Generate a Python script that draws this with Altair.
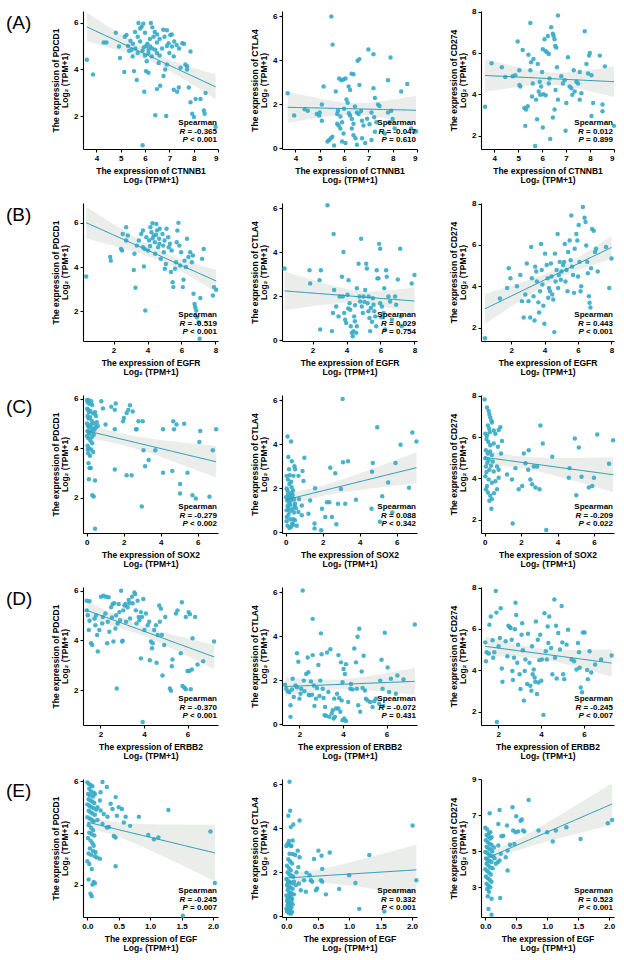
import numpy as np
import pandas as pd
import altair as alt

FONT = "Liberation Sans"
POINT = "#36abc6"
LINE = "#2b9cb8"
BAND = "#e8ebe8"

# Expression pairs, Log2(TPM+1): (row gene, checkpoint gene)
CTNNB1_PDCD1 = [
    (3.61, 4.42), (3.86, 3.79), (4.3, 5.15), (4.41, 5.15), (4.8, 5.57), (4.93, 4.98), (4.97, 4.49),
    (5.15, 3.89), (5.17, 5.4), (5.24, 5.47), (5.4, 5.23), (5.45, 4.84), (5.49, 4.56), (5.55, 3.93),
    (5.66, 3.55), (5.59, 5.6), (5.73, 5.99), (5.8, 5.75), (5.86, 5.83), (5.93, 5.96), (6.0, 5.57),
    (5.9, 0.76), (5.97, 3.05), (6.04, 3.93), (6.14, 3.86), (6.24, 5.99), (6.35, 5.4), (6.42, 4.84),
    (6.49, 4.7), (6.56, 4.28), (6.49, 5.15), (6.28, 4.56), (6.21, 4.98), (6.14, 4.7), (6.07, 4.35),
    (6.42, 2.04), (6.87, 2.01), (6.76, 3.72), (6.62, 3.3), (6.49, 3.16), (6.9, 5.68), (7.04, 5.47),
    (6.97, 5.12), (7.11, 4.98), (7.18, 4.56), (6.9, 4.21), (6.83, 4.0), (7.18, 3.13), (7.32, 3.05),
    (7.39, 3.23), (7.46, 4.07), (7.53, 5.12), (7.66, 4.21), (7.73, 4.14), (7.73, 4.0), (7.87, 4.77),
    (7.8, 3.23), (7.87, 2.6), (7.94, 2.11), (8.01, 1.97), (8.08, 2.74), (8.28, 2.74), (8.42, 2.25),
    (8.45, 2.11), (8.49, 2.99), (8.9, 1.55), (5.3, 5.0), (5.5, 5.1), (5.6, 4.9), (5.7, 4.7), (5.8, 5.2),
    (5.9, 4.8), (6.0, 4.6), (6.1, 5.1), (6.2, 5.3), (6.3, 4.9), (6.4, 5.6), (6.5, 5.5), (6.6, 5.3),
    (6.7, 4.9), (6.8, 5.4), (6.9, 5.0), (7.0, 4.7), (7.1, 5.5), (7.2, 5.2), (7.3, 5.05), (6.6, 4.6),
    (6.3, 5.8), (5.7, 5.4), (6.05, 5.0), (5.95, 4.95), (6.15, 4.85), (7.4, 4.9), (7.6, 5.1),
    (6.75, 5.7), (5.35, 4.8),
]
CTNNB1_CTLA4 = [
    (3.68, 2.51), (3.95, 1.49), (4.38, 1.78), (4.51, 1.71), (4.88, 1.56), (4.98, 1.49), (5.09, 1.26),
    (5.16, 2.81), (5.09, 2.0), (5.0, 1.63), (5.32, 0.31), (5.39, 0.38), (5.46, 0.46), (5.52, 0.53),
    (5.59, 0.13), (5.48, 6.0), (5.53, 4.72), (5.66, 2.59), (5.72, 1.56), (5.75, 1.71), (5.8, 3.18),
    (5.89, 3.1), (5.97, 3.13), (6.06, 3.18), (5.72, 1.12), (5.78, 1.04), (5.85, 0.9), (5.92, 1.19),
    (5.98, 0.68), (5.92, 0.31), (6.06, 0.24), (6.1, 2.22), (6.15, 2.07), (6.19, 2.81), (6.25, 2.66),
    (6.31, 3.4), (6.39, 3.37), (6.25, 1.49), (6.32, 1.34), (6.39, 1.12), (6.32, 0.9), (6.39, 0.6),
    (6.47, 0.46), (6.53, 0.16), (6.56, 3.99), (6.63, 4.06), (6.63, 2.88), (6.53, 1.63), (6.6, 1.56),
    (6.74, 1.26), (6.8, 1.04), (6.74, 0.46), (6.87, 0.24), (7.0, 4.5), (7.21, 4.28), (7.21, 2.74),
    (7.27, 2.29), (7.13, 1.63), (7.24, 1.41), (7.33, 1.19), (7.4, 2.0), (7.46, 1.93), (7.27, 0.75),
    (7.13, 0.38), (7.81, 3.1), (7.91, 4.13), (7.81, 1.63), (7.94, 1.71), (7.87, 1.19), (8.0, 1.34),
    (8.08, 0.9), (7.68, 0.68), (8.35, 2.59), (8.6, 2.93), (8.76, 0.9), (8.89, 0.75), (8.96, 0.78),
    (6.0, 1.8), (6.2, 1.6), (6.45, 1.9), (6.7, 1.7), (5.85, 1.45), (6.95, 1.35), (7.05, 1.1),
]
CTNNB1_CD274 = [
    (3.62, 3.39), (3.89, 5.5), (4.32, 5.31), (4.46, 4.84), (4.77, 4.87), (4.88, 4.92), (4.98, 6.55),
    (5.05, 5.16), (5.05, 4.45), (5.09, 4.37), (5.19, 6.14), (5.26, 3.34), (5.3, 2.47), (5.33, 3.26),
    (5.4, 3.42), (5.43, 5.91), (5.51, 7.45), (5.51, 5.16), (5.54, 5.55), (5.58, 3.89), (5.61, 4.52),
    (5.64, 5.71), (5.71, 1.49), (5.75, 3.74), (5.79, 2.79), (5.82, 5.47), (5.86, 4.13), (5.92, 3.97),
    (5.96, 4.37), (6.0, 5.08), (6.03, 2.39), (6.03, 6.18), (6.1, 6.66), (6.14, 6.1), (6.2, 6.03),
    (6.24, 6.82), (6.28, 5.95), (6.31, 4.76), (6.28, 4.52), (6.34, 1.84), (6.38, 7.24), (6.45, 6.93),
    (6.48, 6.82), (6.52, 6.66), (6.55, 6.34), (6.59, 6.26), (6.62, 5.31), (6.66, 7.81), (6.56, 4.21),
    (6.52, 3.26), (6.66, 3.74), (6.45, 2.87), (6.8, 4.87), (6.87, 4.52), (6.94, 4.68), (6.98, 2.23),
    (7.01, 3.58), (7.08, 5.79), (7.15, 4.37), (7.22, 4.29), (7.26, 3.97), (7.32, 5.16), (7.36, 4.13),
    (7.43, 4.6), (7.5, 4.52), (7.57, 3.74), (7.64, 4.05), (7.57, 5.08), (7.78, 7.05), (7.85, 5.47),
    (7.92, 5.0), (7.99, 6.0), (7.96, 5.87), (8.06, 2.95), (8.13, 3.58), (8.06, 4.92), (8.41, 5.87),
    (8.52, 3.5), (8.52, 3.18), (8.62, 5.35), (9.0, 2.47), (6.05, 4.0), (6.15, 3.95), (5.9, 4.6),
]
EGFR_PDCD1 = [
    (0.39, 3.57), (1.8, 4.45), (1.84, 4.29), (2.44, 4.82), (2.5, 4.75), (2.54, 5.5), (2.74, 5.8),
    (2.84, 5.43), (2.74, 5.2), (3.19, 3.87), (3.29, 3.06), (3.23, 4.6), (3.37, 4.97), (3.49, 5.2),
    (3.63, 5.5), (3.73, 5.65), (3.73, 4.9), (3.83, 4.82), (3.79, 4.02), (3.87, 2.03), (3.93, 5.35),
    (4.03, 4.75), (4.09, 5.2), (4.17, 5.8), (4.23, 5.58), (4.29, 5.98), (4.37, 5.43), (4.43, 5.12),
    (4.52, 5.95), (4.56, 5.65), (4.62, 4.9), (4.68, 5.28), (4.72, 5.73), (4.78, 4.37), (4.88, 5.5),
    (4.92, 4.97), (4.96, 4.67), (5.02, 3.92), (5.08, 4.14), (5.12, 5.73), (5.22, 5.35), (5.32, 5.05),
    (5.42, 4.75), (5.38, 3.77), (5.48, 3.31), (5.52, 3.09), (5.62, 3.92), (5.68, 4.22), (5.72, 5.12),
    (5.76, 5.65), (5.82, 6.0), (5.88, 4.97), (5.92, 4.07), (5.98, 4.67), (6.08, 3.09), (6.12, 3.42),
    (6.18, 4.29), (6.26, 4.0), (6.32, 5.28), (6.41, 4.45), (6.51, 4.67), (6.61, 4.22), (6.67, 4.52),
    (6.71, 2.79), (6.77, 2.33), (6.81, 2.18), (6.87, 2.03), (6.91, 1.73), (7.01, 1.5), (7.07, 0.75),
    (7.11, 2.6), (7.21, 4.37), (7.31, 4.82), (7.85, 2.71), (7.91, 3.09), (8.04, 2.97),
    (4.3, 5.3), (4.5, 5.45), (4.7, 5.05), (4.15, 4.95), (5.0, 5.2), (5.25, 4.9), (4.45, 4.6),
]
EGFR_CTLA4 = [
    (0.35, 3.27), (1.82, 3.19), (1.86, 2.59), (2.41, 2.74), (2.49, 3.19), (2.45, 0.49), (2.88, 6.15),
    (3.24, 4.84), (3.2, 1.24), (3.14, 0.42), (3.27, 2.29), (3.39, 1.54), (3.53, 1.09), (3.59, 2.0),
    (3.73, 2.89), (3.78, 2.0), (3.82, 4.02), (3.86, 1.24), (3.92, 0.94), (3.98, 0.79), (4.06, 2.07),
    (4.12, 2.74), (4.18, 1.69), (4.22, 1.39), (4.25, 0.64), (4.31, 0.34), (4.37, 0.19), (4.41, 0.42),
    (4.45, 1.09), (4.49, 0.87), (4.57, 0.34), (4.61, 0.64), (4.61, 2.37), (4.71, 3.49), (4.76, 2.0),
    (4.8, 1.77), (4.86, 4.62), (4.9, 1.54), (4.96, 1.24), (5.0, 2.0), (5.16, 3.49), (5.2, 3.27),
    (5.1, 2.29), (5.24, 1.69), (5.29, 1.32), (5.35, 1.02), (5.39, 0.42), (5.43, 1.47), (5.55, 1.92),
    (5.59, 1.62), (5.63, 1.32), (5.69, 1.09), (5.75, 0.64), (5.78, 3.19), (5.82, 2.82), (5.92, 4.39),
    (5.98, 4.17), (5.88, 2.82), (5.98, 1.69), (6.08, 1.54), (6.18, 1.24), (6.27, 0.49), (6.22, 2.37),
    (6.33, 3.19), (6.37, 2.89), (6.47, 2.0), (6.57, 1.77), (6.67, 0.94), (6.86, 2.0), (6.92, 1.62),
    (7.02, 2.77), (7.16, 4.17), (7.2, 1.09), (7.25, 0.64), (7.84, 2.59), (8.0, 2.97),
    (4.5, 1.6), (5.05, 1.75), (5.5, 0.85), (4.1, 1.45), (5.3, 2.0), (6.05, 1.05),
]
EGFR_CD274 = [
    (0.44, 1.48), (1.33, 3.41), (1.76, 3.92), (1.86, 4.87), (1.96, 4.39), (2.35, 4.0), (2.55, 4.55),
    (2.65, 3.28), (2.75, 2.49), (2.85, 3.6), (2.94, 5.1), (3.04, 3.28), (3.14, 2.49), (3.2, 5.9),
    (3.24, 4.39), (3.34, 3.52), (3.4, 2.34), (3.44, 4.95), (3.5, 4.71), (3.54, 4.23), (3.63, 3.22),
    (3.67, 2.73), (3.73, 3.76), (3.79, 6.05), (3.83, 4.79), (3.87, 4.08), (3.93, 3.06), (3.99, 2.18),
    (4.03, 5.58), (4.13, 5.03), (4.19, 4.39), (4.22, 3.44), (4.26, 3.92), (4.32, 3.76), (4.38, 5.1),
    (4.42, 4.47), (4.46, 3.6), (4.52, 3.36), (4.58, 1.78), (4.62, 5.58), (4.66, 4.23), (4.72, 4.79),
    (4.78, 6.53), (4.81, 3.92), (4.85, 4.55), (4.91, 5.18), (4.97, 4.31), (5.01, 4.71), (5.11, 5.03),
    (5.17, 5.18), (5.21, 6.05), (5.25, 4.23), (5.31, 4.79), (5.37, 3.76), (5.41, 5.66), (5.5, 6.21),
    (5.56, 5.26), (5.6, 7.43), (5.64, 4.95), (5.7, 4.55), (5.76, 3.68), (5.8, 5.82), (5.9, 6.53),
    (5.96, 6.21), (6.0, 4.47), (6.04, 6.96), (6.09, 5.18), (6.15, 3.76), (6.19, 4.0), (6.29, 7.84),
    (6.39, 7.32), (6.45, 7.11), (6.49, 5.97), (6.55, 5.18), (6.59, 4.63), (6.65, 3.52), (6.69, 3.2),
    (6.74, 2.97), (6.78, 4.87), (6.84, 6.77), (6.94, 6.69), (7.02, 5.66), (7.08, 5.82), (7.67, 5.9),
    (7.87, 3.92), (8.0, 5.34), (7.18, 4.71),
]
SOX2_PDCD1 = [
    (0.02, 5.95), (0.05, 5.85), (0.1, 5.95), (0.15, 5.8), (0.25, 5.9), (0.3, 5.75), (0.03, 5.6),
    (0.08, 5.55), (0.12, 5.45), (0.2, 5.5), (0.35, 5.4), (0.45, 5.45), (0.05, 5.3), (0.1, 5.2),
    (0.18, 5.25), (0.28, 5.1), (0.4, 5.0), (0.55, 5.05), (0.02, 5.0), (0.07, 4.9), (0.14, 4.85),
    (0.22, 4.95), (0.32, 4.8), (0.5, 4.85), (0.6, 4.9), (0.04, 4.7), (0.1, 4.65), (0.16, 4.6),
    (0.26, 4.7), (0.38, 4.55), (0.02, 4.5), (0.09, 4.4), (0.2, 4.3), (0.3, 4.2), (0.05, 4.1),
    (0.12, 4.0), (0.24, 3.95), (0.35, 3.85), (0.08, 3.8), (0.18, 3.7), (0.1, 3.4), (0.15, 3.2),
    (0.22, 3.2), (0.12, 2.75), (0.45, 2.7), (0.3, 2.1), (0.38, 2.05), (0.45, 0.75), (0.06, 3.95),
    (0.28, 4.45), (0.42, 4.75), (0.5, 5.3), (0.79, 5.9), (0.88, 5.61), (1.02, 4.96), (1.33, 5.68),
    (1.52, 5.55), (1.57, 5.81), (1.52, 4.77), (1.52, 3.14), (1.97, 5.09), (2.01, 5.22), (2.16, 5.42),
    (2.25, 5.55), (2.34, 5.74), (2.49, 5.48), (2.16, 2.91), (2.43, 2.91), (2.67, 4.77), (2.7, 4.77),
    (2.8, 5.09), (3.03, 5.09), (2.98, 1.65), (3.07, 3.92), (3.16, 3.27), (3.35, 3.53), (3.71, 3.92),
    (4.13, 4.77), (4.13, 3.01), (4.68, 5.09), (4.72, 4.77), (4.86, 4.96), (4.63, 3.08), (5.05, 2.56),
    (5.05, 2.17), (5.27, 4.99), (5.45, 3.01), (5.72, 2.1), (5.9, 1.97), (6.09, 4.25), (6.14, 4.7),
    (6.64, 2.04), (6.82, 3.92), (7.0, 4.77),
]
SOX2_CTLA4 = [
    (0.1, 4.36), (0.29, 4.13), (0.14, 3.43), (0.33, 3.24), (0.47, 3.01), (0.51, 2.87), (0.18, 2.87),
    (0.05, 2.57), (0.42, 2.57), (0.69, 2.57), (0.91, 2.79), (0.96, 2.34), (1.01, 3.39), (0.72, 1.52),
    (0.87, 1.22), (0.69, 0.93), (0.87, 0.78), (1.23, 0.85), (1.32, 1.45), (1.59, 2.01), (1.56, 0.4),
    (1.56, 0.18), (1.92, 0.1), (1.96, 1.07), (2.14, 0.7), (2.23, 1.37), (2.36, 1.37), (2.41, 2.94),
    (2.5, 0.7), (2.68, 2.69), (2.74, 0.37), (2.83, 1.3), (2.99, 1.97), (3.08, 6.07), (3.1, 3.19),
    (3.22, 1.3), (3.37, 3.24), (3.8, 1.48), (4.64, 1.07), (4.67, 2.76), (4.71, 3.16), (4.95, 4.78),
    (5.09, 0.48), (5.22, 1.64), (5.54, 2.27), (5.76, 0.9), (5.94, 3.16), (6.21, 3.99), (6.67, 2.03),
    (6.85, 4.54), (7.07, 4.13), (0.05, 1.0), (0.1, 1.2), (0.15, 1.5), (0.2, 1.6), (0.25, 1.7),
    (0.3, 1.8), (0.35, 1.6), (0.1, 1.9), (0.2, 2.2), (0.05, 2.0), (0.3, 2.3), (0.4, 1.9), (0.45, 1.5),
    (0.5, 1.3), (0.15, 0.8), (0.25, 0.6), (0.35, 0.4), (0.1, 0.3), (0.2, 0.2), (0.3, 0.25),
    (0.4, 0.35), (0.05, 0.5), (0.15, 1.1), (0.25, 1.25), (0.35, 1.05), (0.45, 0.9), (0.55, 1.1),
    (0.02, 1.6), (0.08, 1.45), (0.12, 1.75), (0.18, 1.35), (0.22, 0.95), (0.28, 1.45), (0.38, 1.7),
    (0.48, 1.2), (0.06, 0.7), (0.42, 0.6), (0.6, 0.3), (0.22, 2.6), (0.12, 2.4), (0.32, 2.05),
    (0.5, 0.55),
]
SOX2_CD274 = [
    (0.0, 7.81), (0.13, 7.42), (0.22, 7.26), (0.26, 7.1), (0.31, 6.94), (0.37, 6.78), (0.4, 6.7),
    (0.18, 6.55), (0.28, 6.23), (0.04, 6.15), (0.13, 6.07), (0.5, 6.31), (0.59, 6.15), (0.77, 6.34),
    (0.86, 6.47), (0.95, 5.8), (0.73, 5.52), (0.5, 5.68), (0.31, 5.6), (0.07, 5.36), (0.18, 5.2),
    (0.4, 5.12), (0.04, 4.97), (0.22, 4.89), (0.44, 4.81), (0.07, 4.57), (0.26, 4.41), (0.5, 4.33),
    (0.68, 4.57), (0.77, 4.41), (0.9, 5.2), (0.04, 4.1), (0.22, 3.94), (0.4, 3.78), (0.59, 3.86),
    (0.77, 4.02), (0.07, 3.47), (0.18, 3.31), (0.31, 3.15), (0.4, 2.99), (0.37, 2.52), (0.13, 3.63),
    (0.26, 2.91), (0.51, 3.28), (0.68, 3.47), (0.1, 5.9), (0.2, 5.75), (0.3, 5.3), (0.15, 4.75),
    (0.35, 4.6), (0.1, 4.3), (0.25, 6.4), (1.23, 4.18), (1.5, 3.94), (1.54, 1.81), (1.69, 4.49),
    (1.87, 3.47), (2.06, 3.63), (2.15, 5.2), (2.24, 4.73), (2.39, 4.41), (2.42, 5.36), (2.51, 3.94),
    (2.61, 3.71), (2.7, 4.57), (2.79, 3.55), (2.88, 4.57), (3.01, 3.47), (3.06, 6.55), (3.19, 5.68),
    (3.38, 1.49), (3.71, 5.04), (4.62, 4.02), (4.66, 4.49), (4.95, 5.92), (5.03, 3.18), (5.17, 5.49),
    (5.32, 4.07), (5.72, 3.55), (5.91, 3.63), (6.0, 4.02), (6.18, 6.12), (6.83, 4.7), (7.05, 5.84),
]
ERBB2_PDCD1 = [
    (1.37, 5.6), (1.5, 5.58), (1.37, 5.21), (1.42, 5.01), (1.5, 4.79), (1.47, 4.42), (1.57, 3.89),
    (1.62, 3.82), (1.73, 4.88), (1.77, 4.61), (1.8, 5.01), (1.85, 4.22), (1.88, 3.56), (1.95, 4.42),
    (2.03, 5.76), (2.08, 4.68), (2.11, 4.94), (2.14, 5.8), (2.23, 5.08), (2.26, 5.76), (2.31, 3.89),
    (2.34, 4.75), (2.38, 5.74), (2.41, 4.35), (2.49, 5.34), (2.53, 4.92), (2.56, 5.47), (2.6, 3.96),
    (2.64, 5.5), (2.69, 4.48), (2.72, 5.01), (2.75, 2.07), (2.79, 4.68), (2.84, 5.47), (2.87, 5.14),
    (2.9, 4.81), (2.95, 6.0), (3.0, 3.96), (3.02, 3.99), (3.05, 5.21), (3.1, 5.41), (3.15, 5.47),
    (3.18, 4.75), (3.25, 5.34), (3.3, 5.63), (3.33, 5.5), (3.36, 4.88), (3.45, 5.76), (3.48, 5.5),
    (3.56, 5.93), (3.6, 5.87), (3.63, 5.21), (3.66, 4.68), (3.71, 5.6), (3.76, 4.94), (3.79, 4.81),
    (3.86, 3.28), (3.86, 5.14), (3.91, 4.94), (3.94, 0.72), (3.97, 5.67), (4.02, 4.42), (4.09, 5.08),
    (4.17, 4.61), (4.24, 4.75), (4.27, 3.2), (4.32, 3.96), (4.37, 3.69), (4.4, 3.89), (4.47, 4.42),
    (4.55, 4.61), (4.58, 3.1), (4.63, 4.22), (4.7, 5.41), (4.73, 4.75), (4.78, 5.28), (4.82, 4.22),
    (4.85, 2.59), (4.93, 3.82), (4.98, 4.94), (5.19, 2.07), (5.24, 1.98), (5.28, 2.96), (5.31, 3.23),
    (5.47, 5.08), (5.54, 5.21), (5.69, 3.49), (5.74, 5.54), (5.77, 2.17), (5.85, 2.11), (5.92, 4.94),
    (5.92, 2.04), (6.0, 2.77), (6.05, 5.14), (6.08, 2.77), (6.11, 5.05), (6.15, 2.04), (6.2, 2.83),
    (6.23, 4.09), (6.35, 4.94), (6.46, 3.03), (6.72, 3.16), (7.22, 3.96),
]
ERBB2_CTLA4 = [
    (1.34, 1.8), (1.39, 1.62), (1.47, 1.5), (1.54, 1.47), (1.59, 0.87), (1.59, 0.34), (1.66, 1.59),
    (1.69, 2.07), (1.74, 1.24), (1.82, 1.77), (1.89, 1.69), (1.89, 3.24), (1.95, 2.85), (2.0, 1.17),
    (2.05, 1.39), (2.08, 1.62), (2.15, 6.09), (2.2, 1.99), (2.23, 1.51), (2.31, 2.29), (2.38, 3.04),
    (2.41, 2.37), (2.43, 1.35), (2.46, 1.32), (2.53, 1.95), (2.58, 1.35), (2.61, 4.8), (2.61, 3.15),
    (2.66, 1.77), (2.69, 0.84), (2.76, 1.17), (2.81, 1.65), (2.87, 2.7), (2.92, 1.29), (2.96, 1.99),
    (2.99, 4.14), (3.02, 3.19), (3.07, 1.62), (3.11, 1.2), (3.15, 0.42), (3.18, 0.79), (3.22, 0.39),
    (3.27, 3.27), (3.33, 1.47), (3.37, 0.34), (3.42, 3.42), (3.48, 0.49), (3.53, 0.64), (3.57, 0.27),
    (3.6, 1.17), (3.63, 0.34), (3.68, 0.72), (3.73, 1.39), (3.79, 0.72), (3.79, 3.15), (3.83, 1.2),
    (3.88, 0.57), (3.91, 2.82), (3.94, 1.09), (3.98, 1.92), (3.98, 0.19), (4.03, 2.52), (4.06, 0.27),
    (4.09, 2.29), (4.14, 2.74), (4.14, 0.15), (4.24, 1.02), (4.34, 1.62), (4.37, 1.84), (4.44, 1.59),
    (4.52, 3.45), (4.6, 2.82), (4.64, 1.62), (4.67, 3.99), (4.7, 0.87), (4.75, 4.35), (4.79, 0.57),
    (4.86, 2.4), (4.9, 1.65), (4.95, 3.12), (5.01, 1.54), (5.05, 1.17), (5.13, 1.09), (5.25, 1.02),
    (5.36, 0.79), (5.44, 1.05), (5.51, 1.17), (5.66, 0.94), (5.71, 1.99), (5.77, 2.94), (5.82, 1.62),
    (5.86, 0.84), (5.92, 4.17), (6.05, 2.59), (6.12, 1.47), (6.2, 2.07), (6.43, 1.39), (6.5, 2.22),
    (6.78, 2.04), (7.3, 4.54),
]
ERBB2_CD274 = [
    (1.4, 5.35), (1.46, 4.87), (1.43, 4.44), (1.56, 4.81), (1.59, 6.2), (1.66, 6.6), (1.74, 5.45),
    (1.77, 4.6), (1.82, 4.87), (1.89, 7.84), (1.92, 6.79), (1.94, 1.49), (2.02, 5.16), (2.08, 5.56),
    (2.12, 7.0), (2.17, 4.08), (2.2, 3.44), (2.35, 5.4), (2.43, 4.68), (2.48, 6.15), (2.54, 6.09),
    (2.58, 6.04), (2.63, 5.48), (2.66, 3.96), (2.69, 3.53), (2.74, 4.6), (2.78, 5.99), (2.81, 7.27),
    (2.84, 6.68), (2.89, 4.36), (2.93, 5.24), (3.0, 3.81), (3.04, 3.09), (3.09, 5.72), (3.12, 6.28),
    (3.15, 4.97), (3.2, 2.53), (3.24, 3.96), (3.27, 4.52), (3.35, 3.33), (3.39, 5.77), (3.46, 4.36),
    (3.5, 3.25), (3.55, 3.01), (3.58, 5.16), (3.61, 3.81), (3.66, 4.04), (3.7, 3.65), (3.73, 3.44),
    (3.76, 6.36), (3.81, 2.85), (3.85, 5.48), (3.88, 3.41), (3.92, 4.49), (3.96, 5.72), (4.01, 3.49),
    (4.04, 4.52), (4.11, 1.84), (4.16, 6.76), (4.22, 4.92), (4.27, 4.52), (4.31, 6.12), (4.34, 5.32),
    (4.38, 6.6), (4.47, 5.08), (4.53, 3.81), (4.62, 7.43), (4.65, 4.6), (4.7, 6.15), (4.73, 3.6),
    (4.8, 5.8), (4.88, 5.0), (4.96, 7.11), (4.99, 5.35), (5.03, 3.81), (5.08, 3.57), (5.19, 5.24),
    (5.26, 5.96), (5.42, 4.52), (5.54, 4.44), (5.65, 4.04), (5.72, 5.32), (5.77, 4.87), (5.8, 4.12),
    (5.85, 3.17), (5.91, 2.93), (5.95, 5.83), (6.03, 5.83), (6.15, 4.01), (6.18, 3.57), (6.26, 4.92),
    (6.34, 3.89), (6.52, 4.28), (6.8, 4.52), (7.29, 4.71),
]
EGF_PDCD1 = [
    (0.0, 5.95), (0.02, 5.9), (0.05, 5.85), (0.08, 5.8), (0.03, 5.7), (0.06, 5.6), (0.1, 5.55),
    (0.01, 5.5), (0.04, 5.45), (0.09, 5.4), (0.12, 5.5), (0.02, 5.3), (0.05, 5.25), (0.08, 5.2),
    (0.11, 5.15), (0.0, 5.1), (0.03, 5.05), (0.06, 5.0), (0.1, 4.95), (0.14, 4.9), (0.02, 4.85),
    (0.05, 4.8), (0.08, 4.75), (0.12, 4.7), (0.0, 4.6), (0.04, 4.55), (0.07, 4.5), (0.1, 4.45),
    (0.16, 4.5), (0.02, 4.3), (0.06, 4.2), (0.09, 4.1), (0.03, 4.0), (0.07, 3.95), (0.11, 3.9),
    (0.01, 3.8), (0.05, 3.7), (0.08, 3.6), (0.1, 3.5), (0.04, 3.4), (0.09, 3.3), (0.02, 3.2),
    (0.06, 3.15), (0.12, 3.1), (0.15, 3.05), (0.2, 3.0), (0.0, 2.9), (0.03, 2.8), (0.07, 2.6),
    (0.1, 2.1), (0.12, 2.05), (0.08, 2.0), (0.02, 2.2), (0.05, 1.65), (0.07, 1.55), (0.13, 3.25),
    (0.24, 5.96), (0.31, 5.77), (0.21, 5.57), (0.2, 5.25), (0.16, 4.99), (0.21, 4.86), (0.26, 4.73),
    (0.32, 4.62), (0.37, 5.12), (0.4, 4.92), (0.45, 5.38), (0.47, 4.66), (0.5, 4.99), (0.55, 4.92),
    (0.61, 4.62), (0.58, 4.4), (0.42, 3.88), (0.45, 3.82), (0.45, 2.71), (0.24, 4.34), (0.31, 4.21),
    (0.34, 4.23), (0.68, 4.27), (0.82, 4.62), (0.97, 3.92), (1.06, 3.75), (1.13, 3.82), (1.29, 4.88),
    (1.96, 4.05), (2.03, 2.06), (1.52, 0.8),
]
EGF_CTLA4 = [
    (0.05, 6.12), (0.06, 4.81), (0.03, 4.58), (0.07, 4.06), (0.11, 4.18), (0.21, 4.36), (0.04, 3.43),
    (0.07, 3.21), (0.1, 2.84), (0.14, 2.79), (0.18, 2.99), (0.21, 2.69), (0.19, 2.24), (0.16, 2.01),
    (0.12, 1.57), (0.15, 1.42), (0.2, 1.49), (0.23, 1.19), (0.28, 1.64), (0.32, 1.99), (0.37, 1.87),
    (0.39, 1.64), (0.44, 2.61), (0.51, 2.99), (0.55, 1.64), (0.56, 2.76), (0.57, 2.16), (0.63, 1.0),
    (0.69, 2.91), (0.31, 1.12), (0.47, 1.19), (0.41, 1.57), (0.49, 1.27), (0.84, 1.24), (1.0, 1.87),
    (1.1, 1.52), (1.16, 0.34), (1.32, 2.79), (1.56, 0.22), (2.01, 4.13), (2.07, 1.64), (0.57, 1.57),
    (0.0, 3.2), (0.02, 3.3), (0.05, 3.25), (0.08, 3.2), (0.03, 2.6), (0.06, 2.5), (0.09, 2.4),
    (0.01, 2.3), (0.04, 2.2), (0.07, 2.1), (0.02, 2.0), (0.05, 1.9), (0.08, 1.85), (0.11, 1.8),
    (0.0, 1.7), (0.03, 1.6), (0.06, 1.55), (0.09, 1.5), (0.01, 1.4), (0.04, 1.35), (0.07, 1.3),
    (0.1, 1.25), (0.02, 1.2), (0.05, 1.1), (0.08, 1.05), (0.12, 1.0), (0.0, 0.95), (0.03, 0.9),
    (0.06, 0.85), (0.09, 0.8), (0.01, 0.7), (0.04, 0.65), (0.07, 0.6), (0.1, 0.55), (0.02, 0.5),
    (0.05, 0.45), (0.08, 0.4), (0.0, 0.35), (0.03, 0.3), (0.06, 0.25), (0.09, 0.2), (0.04, 0.15),
    (0.07, 0.12), (0.02, 1.5), (0.05, 2.85), (0.1, 3.45), (0.03, 0.55), (0.06, 0.38), (0.01, 0.22),
    (0.08, 0.72), (0.05, 1.02), (0.02, 0.82), (0.07, 0.95), (0.04, 0.28),
]
EGF_CD274 = [
    (0.07, 7.1), (0.08, 6.05), (0.1, 5.77), (0.21, 6.51), (0.23, 7.28), (0.26, 5.83), (0.29, 5.86),
    (0.21, 5.31), (0.25, 4.85), (0.2, 4.39), (0.23, 4.48), (0.33, 4.66), (0.36, 5.03), (0.4, 5.35),
    (0.36, 3.93), (0.35, 6.42), (0.44, 7.43), (0.45, 6.14), (0.47, 5.4), (0.5, 6.93), (0.53, 6.09),
    (0.57, 6.69), (0.59, 6.75), (0.61, 6.14), (0.7, 7.84), (0.49, 6.05), (0.63, 6.09), (0.86, 6.14),
    (1.0, 6.05), (1.09, 5.53), (1.14, 6.14), (1.31, 6.32), (1.54, 5.68), (1.98, 6.55), (2.05, 6.73),
    (0.1, 2.36), (0.24, 2.4), (0.05, 1.8), (0.1, 1.47), (0.0, 6.3), (0.03, 6.2), (0.06, 6.0),
    (0.02, 5.9), (0.05, 5.8), (0.08, 5.7), (0.01, 5.6), (0.04, 5.5), (0.07, 5.4), (0.1, 5.35),
    (0.02, 5.25), (0.05, 5.15), (0.08, 5.1), (0.11, 5.0), (0.0, 4.95), (0.03, 4.9), (0.06, 4.8),
    (0.09, 4.75), (0.13, 4.7), (0.01, 4.6), (0.04, 4.5), (0.07, 4.45), (0.1, 4.4), (0.02, 4.3),
    (0.05, 4.2), (0.08, 4.1), (0.12, 4.05), (0.0, 4.0), (0.03, 3.9), (0.06, 3.8), (0.09, 3.7),
    (0.01, 3.6), (0.04, 3.5), (0.07, 3.4), (0.1, 3.3), (0.02, 3.2), (0.05, 3.1), (0.08, 3.0),
    (0.03, 2.9), (0.06, 2.75), (0.04, 2.5), (0.15, 4.6), (0.17, 4.3), (0.14, 5.2),
]

PAIRS = {
    ("CTNNB1", "PDCD1"): CTNNB1_PDCD1, ("CTNNB1", "CTLA4"): CTNNB1_CTLA4, ("CTNNB1", "CD274"): CTNNB1_CD274,
    ("EGFR", "PDCD1"): EGFR_PDCD1, ("EGFR", "CTLA4"): EGFR_CTLA4, ("EGFR", "CD274"): EGFR_CD274,
    ("SOX2", "PDCD1"): SOX2_PDCD1, ("SOX2", "CTLA4"): SOX2_CTLA4, ("SOX2", "CD274"): SOX2_CD274,
    ("ERBB2", "PDCD1"): ERBB2_PDCD1, ("ERBB2", "CTLA4"): ERBB2_CTLA4, ("ERBB2", "CD274"): ERBB2_CD274,
    ("EGF", "PDCD1"): EGF_PDCD1, ("EGF", "CTLA4"): EGF_CTLA4, ("EGF", "CD274"): EGF_CD274,
}

# Spearman R, P comparison sign, P value
SPEARMAN = {
    ("CTNNB1", "PDCD1"): ("-0.365", "<", "0.001"), ("CTNNB1", "CTLA4"): ("-0.047", "=", "0.610"),
    ("CTNNB1", "CD274"): ("0.012", "=", "0.899"),
    ("EGFR", "PDCD1"): ("-0.519", "<", "0.001"), ("EGFR", "CTLA4"): ("0.029", "=", "0.754"),
    ("EGFR", "CD274"): ("0.443", "<", "0.001"),
    ("SOX2", "PDCD1"): ("-0.279", "<", "0.002"), ("SOX2", "CTLA4"): ("0.088", "<", "0.342"),
    ("SOX2", "CD274"): ("-0.209", "<", "0.022"),
    ("ERBB2", "PDCD1"): ("-0.370", "<", "0.001"), ("ERBB2", "CTLA4"): ("-0.072", "=", "0.431"),
    ("ERBB2", "CD274"): ("-0.245", "<", "0.007"),
    ("EGF", "PDCD1"): ("-0.245", "=", "0.007"), ("EGF", "CTLA4"): ("0.332", "<", "0.001"),
    ("EGF", "CD274"): ("0.523", "<", "0.001"),
}

ROWS = [("(A)", "CTNNB1"), ("(B)", "EGFR"), ("(C)", "SOX2"), ("(D)", "ERBB2"), ("(E)", "EGF")]
COLS = ["PDCD1", "CTLA4", "CD274"]

X_AXES = {
    "CTNNB1": ([3.45, 9.0], [4, 5, 6, 7, 8, 9], "d"),
    "EGFR": ([0.2, 8.15], [2, 4, 6, 8], "d"),
    "SOX2": ([-0.2, 7.1], [0, 2, 4, 6], "d"),
    "ERBB2": ([1.2, 7.4], [2, 4, 6], "d"),
    "EGF": ([-0.07, 2.08], [0, 0.5, 1, 1.5, 2], ".1f"),
}
PDCD1_DOMAINS = {"CTNNB1": [0.6, 6.5], "EGFR": [0.65, 6.9], "SOX2": [0.58, 6.15],
                 "ERBB2": [0.6, 6.15], "EGF": [0.75, 6.08]}


def y_axis(xg, yg):
    if yg == "PDCD1":
        return PDCD1_DOMAINS[xg], [2, 4, 6]
    if yg == "CTLA4":
        return [-0.03, 6.25], [0, 2, 4, 6]
    if xg == "EGF":
        return [1.35, 9.0], [3, 5, 7, 9]
    return [1.35, 8.03], [2, 4, 6, 8]


def ols_band(x, y, n=60):
    b1, b0 = np.polyfit(x, y, 1)
    xs = np.linspace(x.min(), x.max(), n)
    fit = b0 + b1 * xs
    resid = y - (b0 + b1 * x)
    s = np.sqrt(resid @ resid / (len(x) - 2))
    se = s * np.sqrt(1 / len(x) + (xs - x.mean()) ** 2 / ((x - x.mean()) ** 2).sum())
    return xs, fit, fit - 1.98 * se, fit + 1.98 * se


# Arial/Liberation Sans bold advance widths (em) for the stat strings
WIDTHS = {" ": 0.278, ".": 0.278, "-": 0.333, "=": 0.584, "<": 0.584}


def text_width(s, size):
    return sum(WIDTHS.get(c, 0.556) for c in s) * size


def note(text, x, y, italic=False):
    return alt.Chart(pd.DataFrame({"t": [text]})).mark_text(
        align="right", baseline="alphabetic", font=FONT, fontSize=8, fontWeight="bold",
        fontStyle="italic" if italic else "normal", color="black",
    ).encode(text="t:N", x=alt.value(x), y=alt.value(y))


def panel(xg, yg, label, width, height):
    pts = np.array(PAIRS[(xg, yg)], dtype=float)
    dots_df = pd.DataFrame({"x": pts[:, 0], "y": pts[:, 1]})
    xs, fit, lo, hi = ols_band(pts[:, 0], pts[:, 1])
    fit_df = pd.DataFrame({"x": xs, "fit": fit, "lo": lo, "hi": hi})

    xdom, xticks, xfmt = X_AXES[xg]
    ydom, yticks = y_axis(xg, yg)
    xscale = alt.Scale(domain=xdom, nice=False, zero=False)
    yscale = alt.Scale(domain=ydom, nice=False, zero=False)
    xaxis = alt.Axis(values=xticks, format=xfmt, title=[f"The expression of {xg}", "Log₂ (TPM+1)"])
    yaxis = alt.Axis(values=yticks, format="d", title=[f"The expression of {yg}", "Log₂ (TPM+1)"])
    xenc = alt.X("x:Q", scale=xscale, axis=xaxis)

    band = alt.Chart(fit_df).mark_area(color=BAND, opacity=0.9, clip=True).encode(
        x=xenc, y=alt.Y("lo:Q", scale=yscale, axis=yaxis), y2="hi:Q")
    dots = alt.Chart(dots_df).mark_circle(color=POINT, size=20, opacity=0.9).encode(
        x=xenc, y=alt.Y("y:Q", scale=yscale, axis=yaxis))
    line = alt.Chart(fit_df).mark_line(color=LINE, strokeWidth=1, clip=True).encode(
        x=xenc, y=alt.Y("fit:Q", scale=yscale, axis=yaxis))

    r, op, p = SPEARMAN[(xg, yg)]
    right = width - 1
    r_val, p_val = f"= {r}", f"{op} {p}"
    layers = [
        band, dots, line,
        note("Spearman", right, height - 24),
        note(r_val, right, height - 15.5),
        note("R", right - text_width(" " + r_val, 8), height - 15.5, italic=True),
        note(p_val, right, height - 7),
        note("P", right - text_width(" " + p_val, 8), height - 7, italic=True),
    ]
    if label:
        layers.append(
            alt.Chart(pd.DataFrame({"t": [label]})).mark_text(
                align="left", baseline="middle", font=FONT, fontSize=19, color="black",
            ).encode(text="t:N", x=alt.value(-77), y=alt.value(12))
        )
    return alt.layer(*layers).properties(width=width, height=height)


COL_WIDTHS = [135, 135, 133]
cells = []
for label, xg in ROWS:
    for j, yg in enumerate(COLS):
        cells.append(panel(xg, yg, label if j == 0 else None, COL_WIDTHS[j], 138))

chart = alt.concat(
    *cells, columns=3, bounds="flush",
    spacing=alt.RowColnumber(row=54, column=64),
).properties(
    padding={"left": 6, "top": 7, "right": 2, "bottom": 2}
).configure_axis(
    labelFont=FONT, titleFont=FONT, labelFontSize=8, labelFontWeight="bold",
    titleFontSize=8.5, titleFontWeight="bold", labelColor="black", titleColor="black",
    domainColor="black", tickColor="black", tickSize=3, domainWidth=1.1, tickWidth=1.1,
    grid=False, labelPadding=2, titlePadding=4, titleLineHeight=9,
).configure_view(stroke=None)

chart.save("out.html", embed_options={"renderer": "svg", "actions": False})
